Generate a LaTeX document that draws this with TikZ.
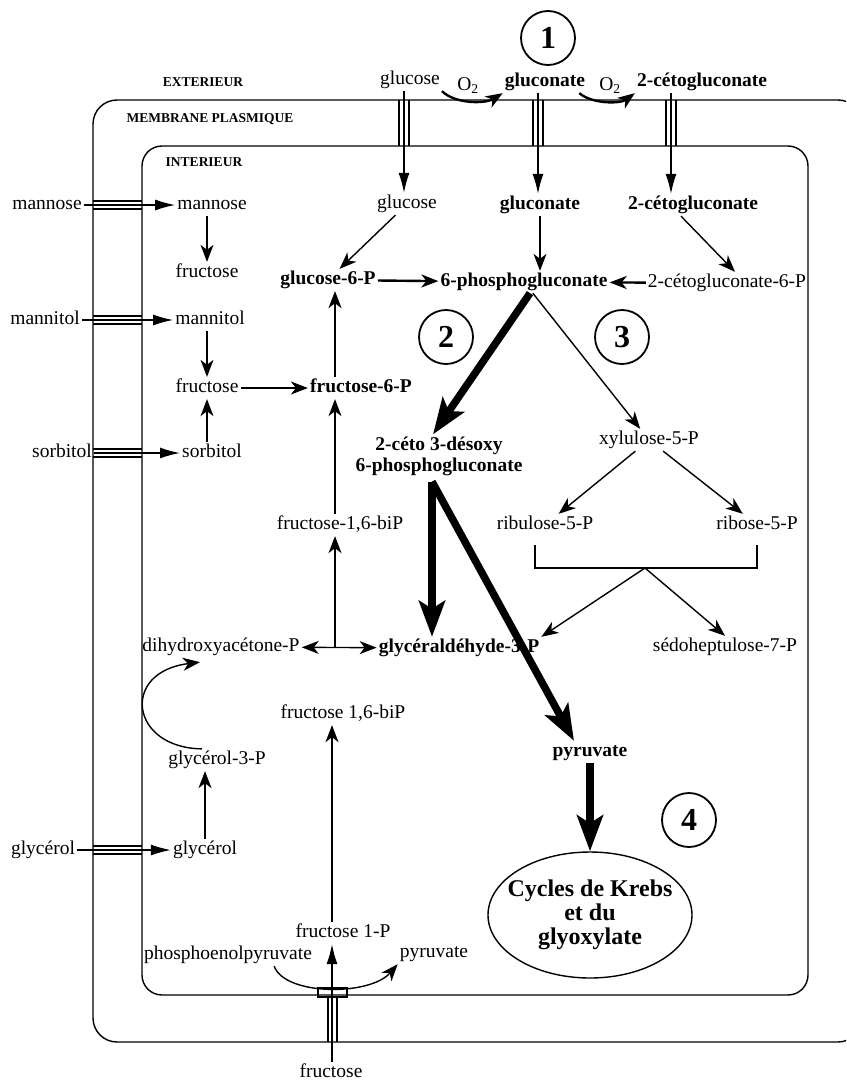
\documentclass[tikz,border=0pt]{standalone}
\usepackage{fontspec}
\setmainfont{Liberation Serif}
\usepackage{tikz}
\usetikzlibrary{arrows.meta, positioning, shapes.geometric}

\tikzset{
	>={Stealth[length=17pt,width=13pt,inset=5pt]},
	met/.style={inner sep=2pt, text height=13.6pt, text depth=4.3pt, font=\fontsize{19.5}{21}\selectfont},
	bmet/.style={met, font=\fontsize{19.5}{21}\selectfont\bfseries},
	zone/.style={inner sep=0pt, font=\fontsize{13.5}{14}\selectfont\bfseries},
	num/.style={circle, draw, line width=1.8pt, minimum size=54pt, inner sep=0pt, font=\fontsize{32}{32}\selectfont\bfseries},
	rxn/.style={line width=1.4pt, ->},
	rxnthick/.style={line width=2.4pt, ->},
	flux/.style={line width=7.5pt, -{Stealth[length=36pt,width=26pt,inset=8pt]}},
	entry/.style={line width=1.4pt, -{Latex[length=20pt,width=11pt]}},
	wall/.style={line width=1.4pt},
}

\begin{document}
\begin{tikzpicture}[x=1pt, y=-1pt]
	\clip (0,0) rectangle (846,1084);
	\draw[wall, rounded corners=24pt] (93,100) rectangle (862,1042);
	\draw[wall, rounded corners=20pt] (142,146) rectangle (808,995);
	\foreach \cx in {404,538,671}
		\draw[wall] (\cx-5,100) -- (\cx-5,146) (\cx+5,100) -- (\cx+5,146);
	\foreach \cy in {205,320,453,850}
		\draw[wall] (93,\cy-4) -- (142,\cy-4) (93,\cy+4) -- (142,\cy+4);
	\draw[wall] (318,988) rectangle (347,997);
	\draw[wall] (328,997) -- (328,1042) (337,997) -- (337,1042);

	\coordinate (c1) at (404,100);
	\coordinate (c2) at (538,100);
	\coordinate (c3) at (671,100);
	\coordinate (c4) at (332,1042);
	\coordinate (col) at (335,0);
	\coordinate (brk) at (645,568);

	\node[zone] (ext) at (203,82) {EXTERIEUR};
	\node[zone] (memb) at (210,119) {MEMBRANE PLASMIQUE};
	\node[zone] (int) at (204,162) {INTERIEUR};

	\node[num] (n1) at (548,38) {1};
	\node[num] (n2) at (446,337) {2};
	\node[num] (n3) at (622,337) {3};
	\node[num] (n4) at (689,820) {4};

	\node[met] (glcext) at (410,80) {glucose};
	\node[bmet] (gntext) at (545,82) {gluconate};
	\node[bmet] (kgext) at (702,82) {2-cétogluconate};
	\node[met] (o2a) at (468,86) {O\textsubscript{2}};
	\node[met] (o2b) at (610,86) {O\textsubscript{2}};
	\node[met] (manext) at (47,205) {mannose};
	\node[met] (mtlext) at (45,320) {mannitol};
	\node[met] (sorext) at (62,453) {sorbitol};
	\node[met] (glyext) at (43,850) {glycérol};
	\node[met] (fruext) at (331,1073) {fructose};

	\node[met] (glcin) at (407,204) {glucose};
	\node[bmet] (gntin) at (540,205) {gluconate};
	\node[bmet] (kgin) at (693,205) {2-cétogluconate};
	\node[met] (manin) at (212,205) {mannose};
	\node[met] (fruA) at (207,273) {fructose};
	\node[met] (mtlin) at (210,320) {mannitol};
	\node[met] (fruB) at (207,388) {fructose};
	\node[met] (sorin) at (212,453) {sorbitol};
	\node[bmet] (g6p) at (328,280) {glucose-6-P};
	\node[bmet] (pg) at (524,282) {6-phosphogluconate};
	\node[met] (kg6p) at (727,283) {2-cétogluconate-6-P};
	\node[bmet] (f6p) at (361,388) {fructose-6-P};
	\node[bmet, align=center, text height={}, text depth={}] (kdpg) at (439,456) {2-céto 3-désoxy\\6-phosphogluconate};
	\node[met] (xu5p) at (649,440) {xylulose-5-P};
	\node[met] (ru5p) at (545,525) {ribulose-5-P};
	\node[met] (r5p) at (757,525) {ribose-5-P};
	\node[met] (fbpA) at (340,525) {fructose-1,6-biP};
	\node[met] (dhap) at (221,647) {dihydroxyacétone-P};
	\node[bmet] (gap) at (459,648) {glycéraldéhyde-3-P};
	\node[met] (s7p) at (725,647) {sédoheptulose-7-P};
	\node[met] (fbpB) at (343,714) {fructose 1,6-biP};
	\node[met] (g3p) at (217,760) {glycérol-3-P};
	\node[bmet] (pyr) at (590,752) {pyruvate};
	\node[met] (glyin) at (205,850) {glycérol};
	\node[met] (f1p) at (343,933) {fructose 1-P};
	\node[met] (pep) at (228,955) {phosphoenolpyruvate};
	\node[met] (pyrb) at (434,953) {pyruvate};
	\node[ellipse, draw, line width=1.4pt, minimum width=204pt, minimum height=126pt] (krebs) at (590,915) {};
	\node[align=center, font=\fontsize{24}{24}\selectfont\bfseries] (krebstxt) at (krebs) {Cycles de Krebs\\et du\\glyoxylate};

	\draw[entry] (c1 |- glcext.south) -- (c1 |- glcin.north);
	\draw[entry] (c2 |- gntext.south) -- (c2 |- gntin.north);
	\draw[entry] (c3 |- kgext.south) -- (c3 |- kgin.north);
	\draw[entry] (c4 |- fruext.north) -- (c4 |- f1p.south);
	\path[entry]
	(manext) edge (manin)
	(mtlext) edge (mtlin)
	(sorext) edge (sorin)
	(glyext) edge (glyin)
	;
	\draw[rxnthick] (glcext.south east) .. controls (455,104) and (485,104) .. (gntext.south west);
	\draw[rxnthick] ([xshift=-8pt]gntext.south east) .. controls (592,104) and (620,104) .. (kgext.south west);

	\draw[rxn] (manin.south -| fruA) -- (fruA.north);
	\draw[rxn] (mtlin.south -| fruB) -- (fruB.north);
	\draw[rxn] (sorin.north -| fruB) -- (fruB.south);
	\draw[rxn] (gntin.south) -- (gntin.south |- pg.north);
	\draw[rxn] ([xshift=-12pt]kgin.south) -- ([xshift=8pt]kg6p.north);
	\draw[rxnthick] (col |- f6p.north) -- (col |- g6p.south);
	\draw[rxn] (col |- fbpA.north) -- (col |- f6p.south);
	\draw[rxn] (col |- dhap) -- (col |- fbpA.south);
	\draw[rxn] (glyin.north) -- (glyin.north |- g3p.south);
	\draw[rxn] (c4 |- f1p.north) -- (c4 |- fbpB.south);
	\path[rxn]
	(glcin) edge (g6p)
	(fruB) edge (f6p)
	(pg) edge (xu5p)
	(xu5p) edge (ru5p)
	(xu5p) edge (r5p)
	(brk) edge (gap.north east)
	(brk) edge (s7p.north)
	;
	\path[rxnthick]
	(g6p) edge (pg)
	(kg6p) edge (pg)
	;
	\draw[rxn, <->] (dhap) -- (gap);
	\draw[wall] ([xshift=-10pt,yshift=-9pt]ru5p.south) |- (brk) -| ([yshift=-9pt]r5p.south);
	\draw[rxn] ([xshift=-15pt]g3p.north) .. controls (130,748) and (120,672) .. ([xshift=-21pt,yshift=-4pt]dhap.south);
	\draw[rxn] ([xshift=-40pt]pep.south east) .. controls (285,996) and (370,996) .. (pyrb.south west);

	\draw[flux] ([xshift=6pt]pg.south) -- ([xshift=-6pt]kdpg.north);
	\coordinate (kdtop) at ([xshift=-7pt,yshift=-4pt]kdpg.south);
	\draw[flux] (kdtop) -- (kdtop |- gap.north);
	\draw[flux] (kdtop) -- ([xshift=-16pt]pyr.north);
	\draw[flux] (pyr) -- (krebs.north);
\end{tikzpicture}
\end{document}
